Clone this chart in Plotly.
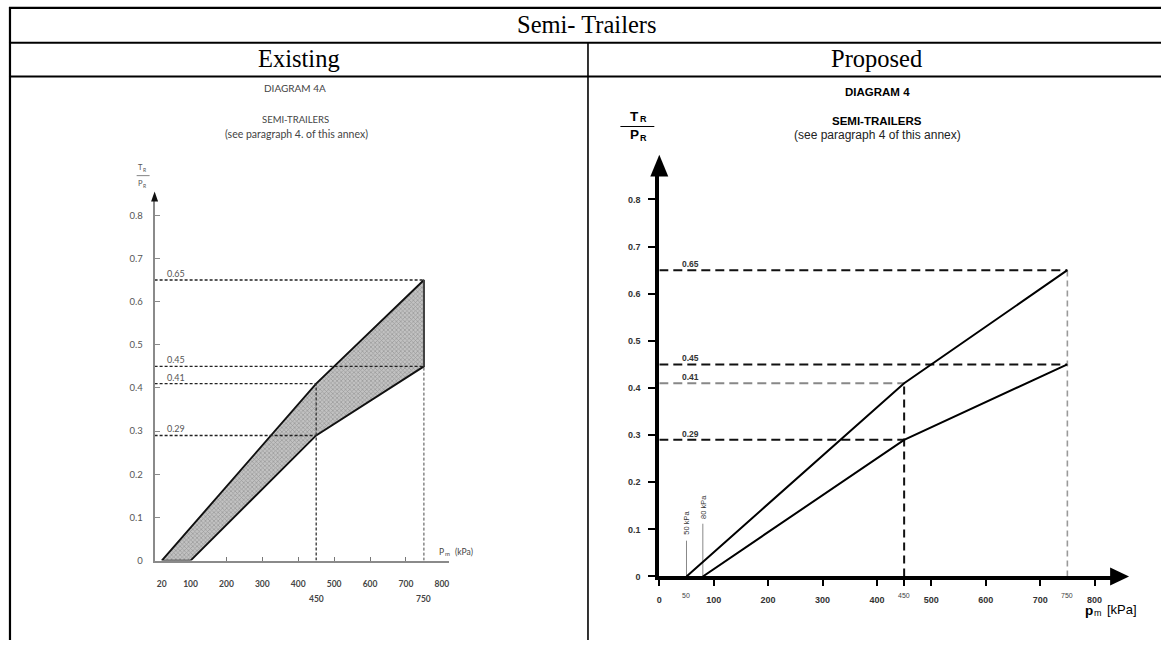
import plotly.graph_objects as go

# ---------------- data ----------------
# Existing diagram (4A): band limits of T_R/P_R against p_m (kPa)
existing_upper_p = [20, 450, 750]
existing_upper_r = [0.0, 0.41, 0.65]
existing_lower_p = [100, 450, 750]
existing_lower_r = [0.0, 0.29, 0.45]

# Proposed diagram (4): two limit lines
proposed_upper_p = [50, 450, 750]
proposed_upper_r = [0.0, 0.41, 0.65]
proposed_lower_p = [80, 450, 750]
proposed_lower_r = [0.0, 0.29, 0.45]

# reference levels and the pressure each guide line runs to
ref_levels = [0.65, 0.45, 0.41, 0.29]
ref_level_p = [750, 750, 450, 450]
ref_pressures = [450, 750]
ref_pressure_r = [0.41, 0.65]

y_ticks = [0, 0.1, 0.2, 0.3, 0.4, 0.5, 0.6, 0.7, 0.8]
x_ticks_existing = [20, 100, 200, 300, 400, 500, 600, 700, 800]
x_ticks_proposed = [0, 100, 200, 300, 400, 500, 600, 700, 800]

W, H = 1161, 645


def X(px):
    return px / W


def Y(py):
    return 1 - py / H


SANS_L = "Lato"
SANS_R = "Liberation Sans"
SERIF = "Liberation Serif"
GREY_TXT = "#555555"

fig = go.Figure()

# ---------------- existing diagram (xaxis / yaxis) ----------------
band_p = existing_upper_p + existing_lower_p[::-1]
band_r = existing_upper_r + existing_lower_r[::-1]
fig.add_trace(go.Scatter(
    x=band_p + [band_p[0]], y=band_r + [band_r[0]],
    mode="lines", fill="toself",
    fillcolor="#b8b8b8",
    fillpattern=dict(shape="x", size=3, solidity=0.4, fgcolor="#6e6e6e", bgcolor="#c2c2c2"),
    line=dict(color="#111111", width=1.9),
    xaxis="x", yaxis="y", hoverinfo="skip", showlegend=False))

for lvl, p in zip(ref_levels, ref_level_p):
    fig.add_trace(go.Scatter(
        x=[0, p], y=[lvl, lvl], mode="lines",
        line=dict(color="#222222", width=1.4, dash="3px,2px"),
        xaxis="x", yaxis="y", hoverinfo="skip", showlegend=False))
for p, r in zip(ref_pressures, ref_pressure_r):
    fig.add_trace(go.Scatter(
        x=[p, p], y=[0, r], mode="lines",
        line=dict(color="#333333", width=1.3 if p == 450 else 0.9, dash="3px,2px"),
        xaxis="x", yaxis="y", hoverinfo="skip", showlegend=False))
# right edge of the band at 750 kPa
fig.add_trace(go.Scatter(
    x=[existing_upper_p[-1], existing_lower_p[-1]],
    y=[existing_upper_r[-1], existing_lower_r[-1]], mode="lines",
    line=dict(color="#555555", width=1.2),
    xaxis="x", yaxis="y", hoverinfo="skip", showlegend=False))

# ---------------- proposed diagram (xaxis2 / yaxis2) ----------------
for lvl, p in zip(ref_levels, ref_level_p):
    fig.add_trace(go.Scatter(
        x=[0, p], y=[lvl, lvl], mode="lines",
        line=dict(color="#888888" if lvl == 0.41 else "#111111", width=2, dash="9px,5px"),
        xaxis="x2", yaxis="y2", hoverinfo="skip", showlegend=False))
for p, r in zip(ref_pressures, ref_pressure_r):
    fig.add_trace(go.Scatter(
        x=[p, p], y=[0, r], mode="lines",
        line=dict(color="#111111" if p == 450 else "#999999", width=2 if p == 450 else 1.6,
                  dash="8px,5px" if p == 450 else "6px,4px"),
        xaxis="x2", yaxis="y2", hoverinfo="skip", showlegend=False))

# thin markers at the two start pressures
for p, h in zip([proposed_upper_p[0], proposed_lower_p[0]], [0.076, 0.112]):
    fig.add_trace(go.Scatter(
        x=[p, p], y=[0, h], mode="lines", line=dict(color="#888888", width=1),
        xaxis="x2", yaxis="y2", hoverinfo="skip", showlegend=False))

for px_, r_ in [(proposed_upper_p, proposed_upper_r), (proposed_lower_p, proposed_lower_r)]:
    fig.add_trace(go.Scatter(
        x=px_, y=r_, mode="lines", line=dict(color="#000000", width=2),
        xaxis="x2", yaxis="y2", hoverinfo="skip", showlegend=False))

# ---------------- axes ----------------
ex_x0, ex_x1, ex_y0, ex_y1 = 152, 447, 565, 200
ex_ppx = 0.36      # px per kPa
ex_rpx = 435.0     # px per unit ratio
pr_x0, pr_x1, pr_y0, pr_y1 = 658, 1112, 581, 176
pr_ppx = 0.5455
pr_rpx = 475.0

layout_axes = dict(
    xaxis=dict(domain=[X(ex_x0), X(ex_x1)], range=[0, (ex_x1 - ex_x0) / ex_ppx],
               anchor="y", showgrid=False, zeroline=False,
               showline=True, linecolor="#8a8a8a", linewidth=1.6,
               tickmode="array", tickvals=x_ticks_existing,
               ticktext=["<b>%d</b>" % v for v in x_ticks_existing],
               ticks="", tickfont=dict(family=SANS_L, size=8.5, color="#444444"),
               ticklabelstandoff=14,
               minor=dict(tickmode="array", tickvals=[200, 300, 400, 500, 600, 700],
                          ticks="inside", ticklen=4, tickcolor="#777777", tickwidth=1)),
    yaxis=dict(domain=[Y(ex_y0), Y(ex_y1)], range=[0, (ex_y0 - ex_y1) / ex_rpx],
               anchor="x", showgrid=False, zeroline=False,
               showline=True, linecolor="#8a8a8a", linewidth=2,
               tickmode="array", tickvals=y_ticks,
               ticktext=[("%g" % v) for v in y_ticks],
               ticks="inside", ticklen=5, tickcolor="#8a8a8a", tickwidth=1,
               tickfont=dict(family=SANS_L, size=9.5, color=GREY_TXT),
               ticklabelstandoff=8),
    xaxis2=dict(domain=[X(pr_x0), X(pr_x1)], range=[0, (pr_x1 - pr_x0) / pr_ppx],
                anchor="y2", showgrid=False, zeroline=False,
                showline=True, linecolor="#000000", linewidth=4,
                tickmode="array", tickvals=x_ticks_proposed,
                ticktext=["<b>%d</b>" % v for v in x_ticks_proposed],
                ticks="outside", ticklen=6, tickwidth=2, tickcolor="#000000",
                ticklabelstandoff=6,
                minor=dict(tickmode="array", tickvals=[450], ticks="outside",
                           ticklen=6, tickwidth=2, tickcolor="#000000"),
                tickfont=dict(family=SANS_R, size=9, color="#333333")),
    yaxis2=dict(domain=[Y(pr_y0), Y(pr_y1)], range=[0, (pr_y0 - pr_y1) / pr_rpx],
                anchor="x2", showgrid=False, zeroline=False,
                showline=True, linecolor="#000000", linewidth=4,
                tickmode="array", tickvals=y_ticks,
                ticktext=["<b>%g</b>" % v for v in y_ticks],
                ticks="outside", ticklen=7, tickwidth=2, tickcolor="#000000",
                tickfont=dict(family=SANS_R, size=9, color="#333333"),
                ticklabelstandoff=6),
)

# ---------------- table frame ----------------
shapes = []


def hline(py, x0, x1, w=2):
    shapes.append(dict(type="line", xref="paper", yref="paper", x0=X(x0), x1=X(x1),
                       y0=Y(py), y1=Y(py), line=dict(color="#000000", width=w)))


def vline(px, y0, y1, w=2):
    shapes.append(dict(type="line", xref="paper", yref="paper", x0=X(px), x1=X(px),
                       y0=Y(y0), y1=Y(y1), line=dict(color="#000000", width=w)))


hline(8, 6, W, 2.2)
hline(43, 6, W, 2)
hline(77, 6, W, 2)
vline(7, 7, H, 2.2)
vline(586.5, 43, H, 1.6)


def tri(pts, color):
    path = "M " + " L ".join("%f,%f" % (X(a), Y(b)) for a, b in pts) + " Z"
    shapes.append(dict(type="path", xref="paper", yref="paper", path=path,
                       fillcolor=color, line=dict(color=color, width=0)))


# axis arrowheads
tri([(ex_x0, 193), (ex_x0 - 3.5, 203), (ex_x0 + 3.5, 203)], "#111111")
tri([(pr_x0, 156), (pr_x0 - 9, 178), (pr_x0 + 9, 178)], "#000000")
tri([(1129, pr_y0), (1110, pr_y0 - 9), (1110, pr_y0 + 9)], "#000000")

# fraction bars of the T_R / P_R labels
shapes.append(dict(type="line", xref="paper", yref="paper", x0=X(134), x1=X(147),
                   y0=Y(177), y1=Y(177), line=dict(color="#666666", width=0.8)))
shapes.append(dict(type="line", xref="paper", yref="paper", x0=X(619), x1=X(653),
                   y0=Y(127.5), y1=Y(127.5), line=dict(color="#000000", width=1.2)))

# ---------------- text ----------------
ann = []


def txt(px, py, text, size, family, color="#000000", **kw):
    ann.append(dict(xref="paper", yref="paper", x=X(px), y=Y(py), text=text,
                    showarrow=False, font=dict(family=family, size=size, color=color),
                    borderpad=0,
                    xanchor=kw.pop("xanchor", "center"), yanchor=kw.pop("yanchor", "middle"), **kw))


txt(586, 25, "Semi- Trailers", 24.5, SERIF)
txt(297, 59, "Existing", 24.5, SERIF)
txt(876, 59, "Proposed", 24.5, SERIF)

# existing diagram headings
txt(293, 89, "DIAGRAM 4A", 10, SANS_L, "#444444")
txt(293, 120, "SEMI-TRAILERS", 9.5, SANS_L, "#444444")
txt(294, 135, "(see paragraph 4. of this annex)", 10.5, SANS_L, "#444444")
# T_R / P_R symbols (letter + subscript index)
txt(141, 169, "T", 7.5, SANS_L, "#555555", xanchor="right")
txt(139.5, 171, "R", 5, SANS_L, "#555555", xanchor="left")
txt(141, 185, "P", 7.5, SANS_L, "#555555", xanchor="right")
txt(139.5, 187, "R", 5, SANS_L, "#555555", xanchor="left")
txt(436, 556, "P", 8.5, SANS_L, "#444444", xanchor="left")
txt(442, 558, "m", 6, SANS_L, "#444444", xanchor="left")
txt(452, 556, "(kPa)", 8.5, SANS_L, "#444444", xanchor="left")

# proposed diagram headings
txt(877, 93, "<b>DIAGRAM 4</b>", 11.5, SANS_R)
txt(876, 122, "<b>SEMI-TRAILERS</b>", 11.5, SANS_R)
txt(877, 136, "(see paragraph 4 of this annex)", 12, SANS_R, "#222222")
txt(639, 117, "<b>T</b>", 13.5, SANS_R, xanchor="right")
txt(637.5, 120, "<b>R</b>", 9, SANS_R, xanchor="left")
txt(639, 136, "<b>P</b>", 13.5, SANS_R, xanchor="right")
txt(637.5, 139, "<b>R</b>", 9, SANS_R, xanchor="left")
txt(1084, 615, "<b>p</b>", 13.5, SANS_R, xanchor="left")
txt(1093, 618, "m", 9, SANS_R, xanchor="left")
txt(1106, 614, "[kPa]", 13, SANS_R, xanchor="left")

# reference level labels
for lvl in ref_levels:
    ann.append(dict(xref="x", yref="y", x=28, y=lvl, text="%g" % lvl, showarrow=False,
                    xanchor="left", yanchor="bottom", yshift=-1,
                    font=dict(family=SANS_L, size=9, color=GREY_TXT)))
    ann.append(dict(xref="x2", yref="y2", x=38, y=lvl, text="<b>%g</b>" % lvl, showarrow=False,
                    xanchor="left", yanchor="bottom", yshift=-1,
                    font=dict(family=SANS_R, size=8.5, color="#333333")))

# second row of pressure labels on the existing axis
for p in ref_pressures:
    ann.append(dict(xref="x", yref="y", x=p, y=0, text="<b>%d</b>" % p, showarrow=False,
                    yshift=-38, font=dict(family=SANS_L, size=8.5, color="#444444")))

# small labels for 50, 450, 750 on the proposed axis
for p in [proposed_upper_p[0]] + ref_pressures:
    ann.append(dict(xref="x2", yref="y2", x=p, y=0, text=str(p), showarrow=False,
                    yshift=-19, font=dict(family=SANS_R, size=7, color="#444444")))

# rotated start-pressure notes
for p, yc in zip([proposed_upper_p[0], proposed_lower_p[0]], [0.115, 0.147]):
    ann.append(dict(xref="x2", yref="y2", x=p, y=yc, text="%d kPa" % p, showarrow=False,
                    textangle=-90, font=dict(family=SANS_R, size=7.5, color="#333333")))

fig.update_layout(
    width=W, height=H, margin=dict(l=0, r=0, t=0, b=0),
    paper_bgcolor="white", plot_bgcolor="white",
    showlegend=False, shapes=shapes, annotations=ann,
    **layout_axes)

fig.write_html("out.html")
